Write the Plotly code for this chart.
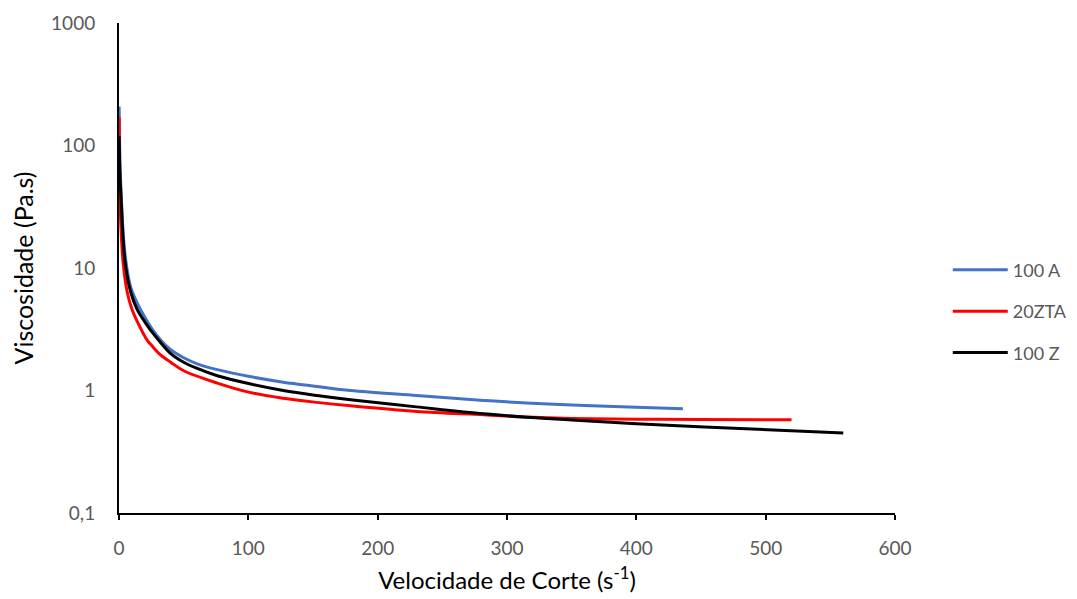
import plotly.graph_objects as go

# 100 A (blue)
x_100a = [0.1, 0.5, 1, 1.7, 2.9, 5, 9, 14, 21, 25, 32, 40, 50, 60, 76, 101, 127, 153, 179, 230, 282, 315, 360, 400, 436]
y_100a = [208, 100, 60, 40, 22, 12, 7.0, 5.2, 3.8, 3.25, 2.6, 2.15, 1.85, 1.66, 1.48, 1.30, 1.17, 1.08, 1.0, 0.91, 0.83, 0.79, 0.755, 0.73, 0.71]

# 20ZTA (red)
x_20zta = [0.1, 0.3, 0.8, 1.7, 3.2, 6.3, 10, 15, 22, 25, 31, 40, 50, 76, 101, 127, 153, 179, 230, 282, 315, 350, 400, 450, 520]
y_20zta = [170, 70, 36, 19.3, 11, 6.4, 4.6, 3.5, 2.55, 2.35, 2.0, 1.7, 1.45, 1.15, 0.965, 0.865, 0.80, 0.75, 0.675, 0.634, 0.608, 0.592, 0.583, 0.579, 0.578]

# 100 Z (black)
x_100z = [0.1, 0.5, 1, 1.7, 2.9, 5, 9, 14, 21, 25, 31, 40, 50, 60, 76, 101, 127, 153, 179, 230, 282, 315, 350, 400, 480, 560]
y_100z = [119, 70, 50, 36, 19.3, 10.5, 6.4, 4.6, 3.5, 3.05, 2.55, 2.0, 1.70, 1.52, 1.32, 1.135, 1.0, 0.91, 0.84, 0.735, 0.645, 0.605, 0.575, 0.535, 0.49, 0.45]

series = [
    ("100 A", x_100a, y_100a, "#4472C4"),
    ("20ZTA", x_20zta, y_20zta, "#FF0000"),
    ("100 Z", x_100z, y_100z, "#000000"),
]

x_ticks = [0, 100, 200, 300, 400, 500, 600]
y_ticks = [0.1, 1, 10, 100, 1000]
y_tick_text = ["0,1", "1", "10", "100", "1000"]

fig = go.Figure()
for i, (name, xs, ys, col) in enumerate(series):
    fig.add_trace(go.Scatter(x=xs, y=ys, mode="lines", name=name,
                             legendgroup=f"g{i}",
                             line=dict(color=col, width=3, shape="spline", smoothing=1.0)))

font_family = "Lato, 'Open Sans', sans-serif"
fig.update_layout(
    width=1069, height=591,
    margin=dict(l=110.5, r=181.5, t=15.3, b=85.7, autoexpand=False),
    plot_bgcolor="white", paper_bgcolor="white",
    font=dict(family=font_family, size=19, color="#595959"),
    showlegend=True,
    legend=dict(x=1.068, y=0.411, xanchor="left", yanchor="middle",
                font=dict(size=18, color="#595959"), itemwidth=55,
                tracegroupgap=15, bgcolor="rgba(0,0,0,0)"),
    xaxis=dict(range=[0, 600], tickvals=x_ticks, showgrid=False, zeroline=False,
               showline=True, linecolor="#000000", linewidth=1.5,
               ticks="outside", ticklen=5, tickwidth=1.5, tickcolor="#000000",
               ticklabelstandoff=12,
               tickfont=dict(size=19, color="#595959"),
               title=dict(text="Velocidade de Corte (s<sup>-1</sup>)",
                          font=dict(size=24, color="#000000"), standoff=15)),
    yaxis=dict(type="log", range=[-1, 3], tickvals=y_ticks, ticktext=y_tick_text,
               showgrid=False, zeroline=False, showline=True,
               linecolor="#000000", linewidth=2, ticks="",
               ticklabelstandoff=18,
               tickfont=dict(size=19, color="#595959"),
               title=dict(text="Viscosidade (Pa.s)",
                          font=dict(size=25, color="#000000"), standoff=10)),
)

fig.write_html("out.html")
